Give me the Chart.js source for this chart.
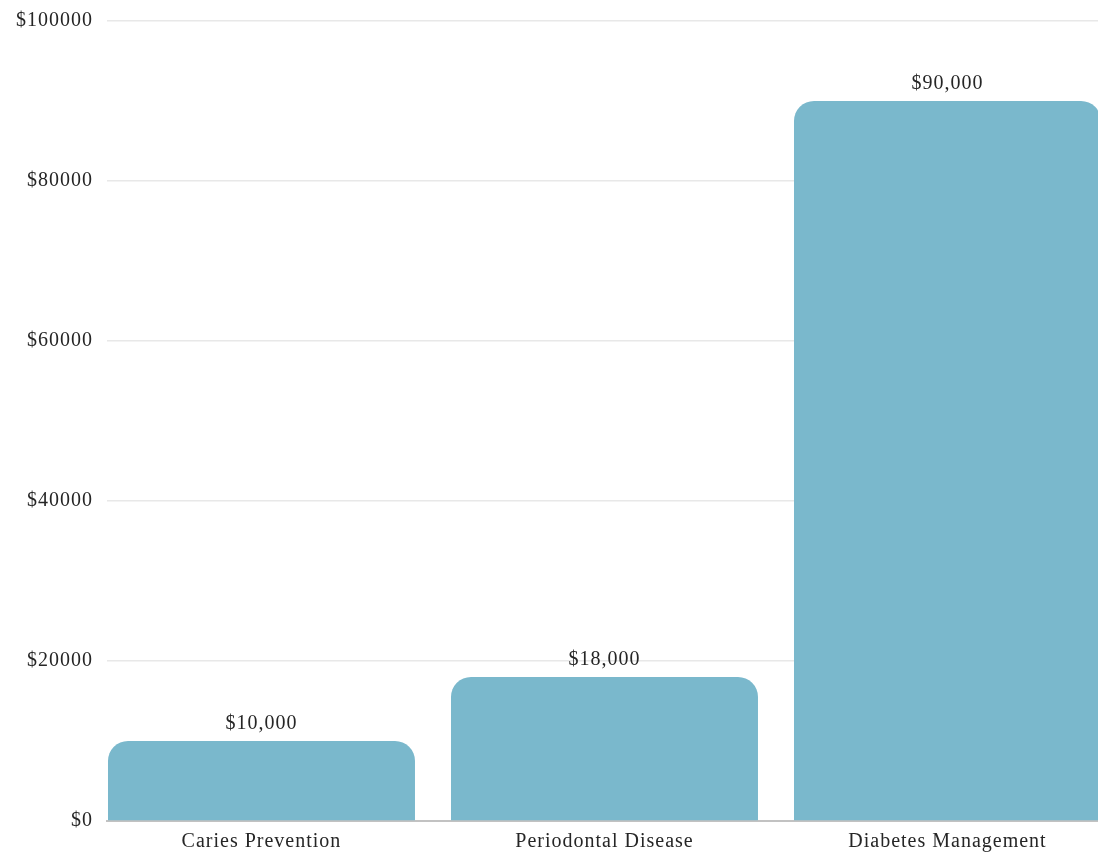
<!DOCTYPE html>
<html>
<head>
<meta charset="utf-8">
<script src="https://cdn.jsdelivr.net/npm/chart.js@4/dist/chart.umd.min.js"></script>
<style>
  html, body { margin: 0; padding: 0; background: #fff; }
  #wrap { width: 1098px; height: 852px; position: relative; }
</style>
</head>
<body>
<div id="wrap"><canvas id="costChart"></canvas></div>
<script>
var categories = ['Caries Prevention', 'Periodontal Disease', 'Diabetes Management'];
var savings = [10000, 18000, 90000];
var valueLabels = ['$10,000', '$18,000', '$90,000'];
var yTicks = [0, 20000, 40000, 60000, 80000, 100000];

var barColor = '#7ab8cc';
var textColor = '#262626';
var fontFamily = '"Liberation Serif", "DejaVu Serif", serif';
var fontSize = 20;

// wider letters, closer to the original serif
var spacingPlugin = {
    id: 'letterSpacing',
    beforeInit: function (chart) { chart.ctx.letterSpacing = '1px'; },
    beforeDraw: function (chart) { chart.ctx.letterSpacing = '1px'; }
};

// draws the value above each bar
var barValuePlugin = {
    id: 'barValues',
    afterDatasetsDraw: function (chart) {
        var ctx = chart.ctx;
        var meta = chart.getDatasetMeta(0);
        ctx.save();
        ctx.font = fontSize + 'px ' + fontFamily;
        ctx.fillStyle = textColor;
        ctx.textAlign = 'center';
        ctx.textBaseline = 'alphabetic';
        meta.data.forEach(function (bar, i) {
            ctx.fillText(valueLabels[i], bar.x, bar.y - 12);
        });
        ctx.restore();
    }
};

var points = categories.map(function (c, i) { return { x: i, y: savings[i] }; });

var ctx = document.getElementById('costChart');

new Chart(ctx, {
    type: 'bar',
    data: {
        datasets: [{
            data: points,
            backgroundColor: barColor,
            borderWidth: 0,
            borderRadius: { topLeft: 20, topRight: 20 },
            borderSkipped: 'bottom',
            categoryPercentage: 1.0,
            barPercentage: 0.895
        }]
    },
    options: {
        responsive: true,
        maintainAspectRatio: false,
        animation: false,
        layout: { padding: { top: 21, right: 0, left: 0, bottom: 0 } },
        plugins: {
            legend: { display: false },
            tooltip: { enabled: false }
        },
        scales: {
            x: {
                type: 'linear',
                offset: false,
                bounds: 'data',
                min: -0.4504,
                max: 2.4388,
                grid: { display: false, drawTicks: false },
                border: { display: true, color: '#c2c2c2', width: 2 },
                afterBuildTicks: function (scale) {
                    scale.ticks = categories.map(function (c, i) { return { value: i }; });
                },
                afterFit: function (scale) {
                    scale.height = 31;
                    scale.paddingLeft = 0;
                    scale.paddingRight = 0;
                },
                ticks: {
                    color: textColor,
                    font: { family: fontFamily, size: fontSize },
                    padding: 9,
                    callback: function (value) { return categories[value]; }
                }
            },
            y: {
                min: 0,
                max: 100000,
                grid: { color: '#e8e8e8', lineWidth: 1.5, drawTicks: false },
                border: { display: false },
                afterBuildTicks: function (scale) {
                    scale.ticks = yTicks.map(function (v) { return { value: v }; });
                },
                afterFit: function (scale) {
                    scale.width = 107;
                    scale.paddingTop = 0;
                    scale.paddingBottom = 0;
                },
                ticks: {
                    color: textColor,
                    font: { family: fontFamily, size: fontSize },
                    padding: 14,
                    callback: function (value) { return '$' + value; }
                }
            }
        }
    },
    plugins: [spacingPlugin, barValuePlugin]
});
</script>
</body>
</html>
